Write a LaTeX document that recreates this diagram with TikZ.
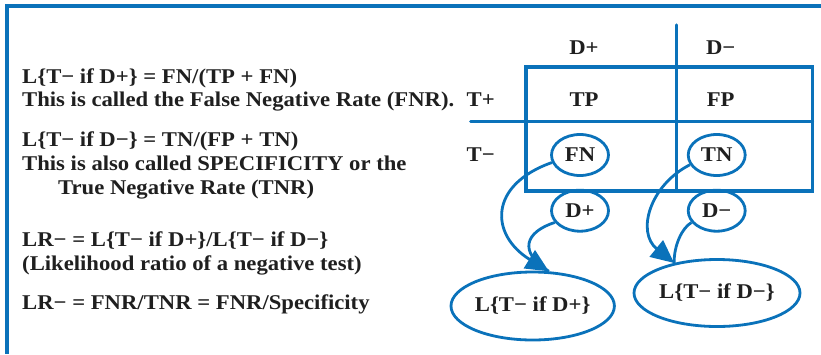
\documentclass[tikz,border=0pt]{standalone}
\usepackage{fontspec}
\setmainfont[FakeStretch=1.08]{Liberation Serif}
\usepackage{tikz}
\usetikzlibrary{arrows.meta, shapes.geometric}
\definecolor{lrblue}{HTML}{0A72BA}

\begin{document}
\begin{tikzpicture}[x=1pt, y=-1pt,
  txt/.style={font=\fontsize{21}{25}\selectfont\bfseries, text=black!88, anchor=base west, inner sep=0pt},
  cell/.style={font=\fontsize{21}{25}\selectfont\bfseries, text=black!88, inner sep=0pt},
  oval/.style={ellipse, draw=lrblue, line width=2.8pt, inner sep=0pt, font=\fontsize{21}{25}\selectfont\bfseries, text=black!88, minimum width=57pt, minimum height=41pt},
  arr/.style={draw=lrblue, line width=2.8pt, -{Triangle[length=23pt, width=21pt]}},
  link/.style={draw=lrblue, line width=2.8pt}]
\useasboundingbox (0,0) rectangle (821,354);
% frame
\draw[lrblue, line width=3.4pt] (821,6) -- (7,6) -- (7,354);
% left text
\node[txt] (l1) at (22,83) {L\{T− if D+\} = FN/(TP + FN)};
\node[txt] (l2) at (22,106.5) {This is called the False Negative Rate (FNR).};
\node[txt] (l3) at (22,146.5) {L\{T− if D−\} = TN/(FP + TN)};
\node[txt] (l4) at (22,170) {This is also called SPECIFICITY or the};
\node[txt] (l5) at (58,194.5) {True Negative Rate (TNR)};
\node[txt] (l6) at (22,246.5) {LR− = L\{T− if D+\}/L\{T− if D−\}};
\node[txt] (l7) at (22,270) {(Likelihood ratio of a negative test)};
\node[txt] (l8) at (22,309) {LR− = FNR/TNR = FNR/Specificity};
% table
\draw[lrblue, line width=3.4pt, line cap=round] (526,67) rectangle (812.5,191);
\draw[lrblue, line width=3.4pt, line cap=round] (676.7,25) -- (676.7,191);
\draw[lrblue, line width=3.4pt, line cap=round] (470.7,121.7) -- (812.5,121.7);
\node[cell] (dph) at (584,48) {D+};
\node[cell] (dnh) at (720.7,48) {D−};
\node[cell] (tp) at (480.7,100) {T+};
\node[cell] (tn) at (480.7,155) {T−};
\node[cell] (tpc) at (584,100) {TP};
\node[cell] (fpc) at (720.7,100) {FP};
\node[oval] (fn) at (580,155) {FN};
\node[oval] (tnc) at (716.7,155) {TN};
\node[oval] (dp) at (580,210.7) {D+};
\node[oval] (dn) at (716.7,210.7) {D−};
\node[oval, minimum width=152pt, minimum height=68pt] (ldp) at (532.7,306) {L\{T− if D+\}};
\node[oval, minimum width=166pt, minimum height=67pt] (ldn) at (717,293) {L\{T− if D−\}};
% arrows
\draw[arr] (fn.195) .. controls (488,185) and (490,235) .. (ldp.65);
\draw[link] (dp.205) .. controls (525,232) and (518,252) .. (ldp.65);
\draw[arr] (tnc.200) .. controls (650,185) and (636,232) .. (ldn.145);
\draw[link] (dn.205) .. controls (682,228) and (674,245) .. (ldn.145);
\end{tikzpicture}
\end{document}
